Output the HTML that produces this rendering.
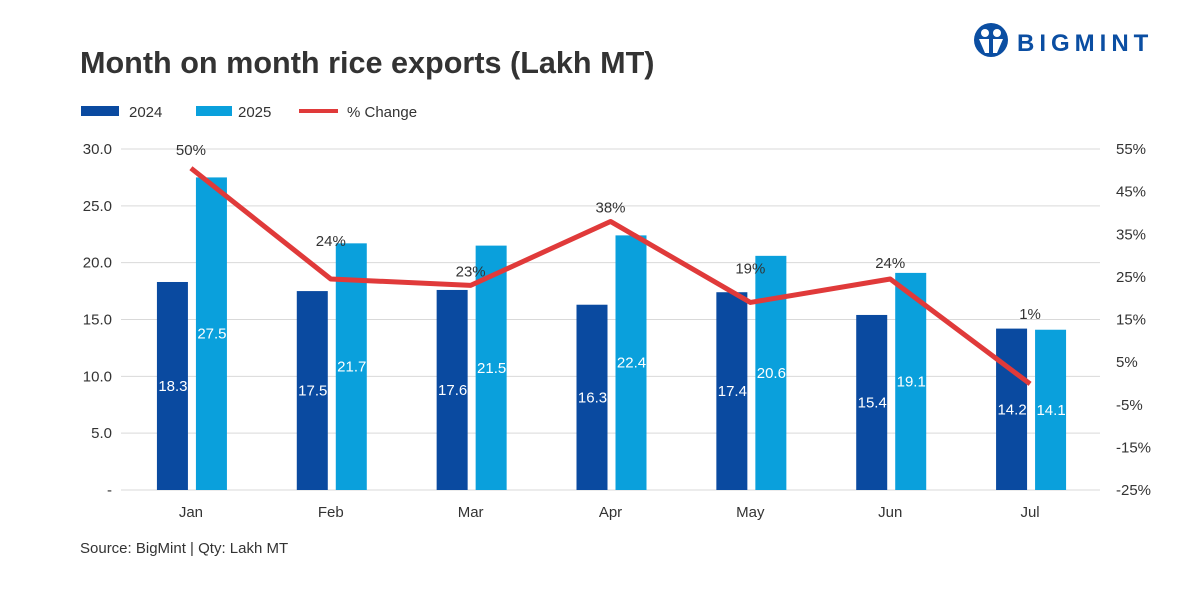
<!DOCTYPE html>
<html><head><meta charset="utf-8"><style>
body{margin:0;background:#fff;font-family:"Liberation Sans",sans-serif}
svg text{font-family:"Liberation Sans",sans-serif}
</style></head><body>
<svg id="c" width="1200" height="600" viewBox="0 0 1200 600">
<text x="80" y="73" font-size="30.6" font-weight="bold" fill="#333">Month on month rice exports (Lakh MT)</text>
<g>
<circle cx="991" cy="40" r="17" fill="#0b4ea2"/>
<circle cx="985" cy="33" r="4" fill="#fff"/><circle cx="997" cy="33" r="4" fill="#fff"/>
<path d="M979 39 h10 v14 h-4 z M993 39 h10 l-6 14 h-4 z" fill="#fff"/>
<text x="1017" y="51" font-size="24" font-weight="bold" fill="#0b4ea2" letter-spacing="5">BIGMINT</text>
</g>
<g>
<rect x="81" y="106" width="38" height="10" fill="#0a4aa0"/>
<text x="129" y="117" font-size="15" fill="#333">2024</text>
<rect x="196" y="106" width="36" height="10" fill="#0aa0dc"/>
<text x="238" y="117" font-size="15" fill="#333">2025</text>
<line x1="299" y1="111" x2="338" y2="111" stroke="#e03a3a" stroke-width="4"/>
<text x="347" y="117" font-size="15" fill="#333">% Change</text>
</g>
<g id="plot"></g>
<text x="80" y="553" font-size="15" fill="#333">Source: BigMint | Qty: Lakh MT</text>
</svg>
<script>
const categories=["Jan","Feb","Mar","Apr","May","Jun","Jul"];
const values2024=[18.3,17.5,17.6,16.3,17.4,15.4,14.2];
const values2025=[27.5,21.7,21.5,22.4,20.6,19.1,14.1];
const pctChange=[50.5,24.5,23,38,19,24.5,-0.1];
const pctLabels=["50%","24%","23%","38%","19%","24%","1%"];
const leftTicks=[0,5,10,15,20,25,30];
const leftTickLabels=["-","5.0","10.0","15.0","20.0","25.0","30.0"];
const rightTicks=[-25,-15,-5,5,15,25,35,45,55];
const labelDy=[-18,-38,-14,-14,-34,-16,-70];
const ns="http://www.w3.org/2000/svg";
const g=document.getElementById("plot");
const X0=121,X1=1100,Y0=490,Y1=149;
const band=(X1-X0)/categories.length;
const xc=i=>X0+band*(i+0.5);
const yL=v=>Y0-(v-0)/(30-0)*(Y0-Y1);
const yR=v=>Y0-(v+25)/80*(Y0-Y1);
function el(t,a,txt){const e=document.createElementNS(ns,t);for(const k in a)e.setAttribute(k,a[k]);if(txt!==undefined)e.textContent=txt;g.appendChild(e);return e;}
leftTicks.forEach((t,i)=>{
 const l=el("line",{x1:X0,x2:X1,y1:yL(t),y2:yL(t),stroke:"#d9d9d9","stroke-width":1});
 
 
 const tx=el("text",{x:112,y:yL(t)+5,"font-size":15,fill:"#333","text-anchor":"end"},leftTickLabels[i]);
 
 
});
rightTicks.forEach(t=>{
 const tx=el("text",{x:1116,y:yR(t)+5,"font-size":15,fill:"#333"},t+"%");
 
 
});
categories.forEach((c,i)=>{
 const cx=xc(i);
 const b1=el("rect",{x:cx-34,y:yL(values2024[i]),width:31,height:Y0-yL(values2024[i]),fill:"#0a4aa0"});
 
 
 const b2=el("rect",{x:cx+5,y:yL(values2025[i]),width:31,height:Y0-yL(values2025[i]),fill:"#0aa0dc"});
 
 
 const t1=el("text",{x:cx-18,y:(yL(values2024[i])+Y0)/2+5,"font-size":15,fill:"#fff","text-anchor":"middle"},values2024[i].toFixed(1));
 
 
 const t2=el("text",{x:cx+21,y:(yL(values2025[i])+Y0)/2+5,"font-size":15,fill:"#fff","text-anchor":"middle"},values2025[i].toFixed(1));
 
 
 const xl=el("text",{x:cx,y:517,"font-size":15,fill:"#333","text-anchor":"middle"},c);
 
 
});
const pts=pctChange.map((v,i)=>xc(i)+","+yR(v)).join(" ");
const pl=el("polyline",{points:pts,fill:"none",stroke:"#e03a3a","stroke-width":5,"stroke-linejoin":"round"});


pctChange.forEach((v,i)=>{
 const t=el("text",{x:xc(i),y:yR(v)+labelDy[i]+5,"font-size":15,fill:"#333","text-anchor":"middle"},pctLabels[i]);
 
 
});
</script>
</body></html>
